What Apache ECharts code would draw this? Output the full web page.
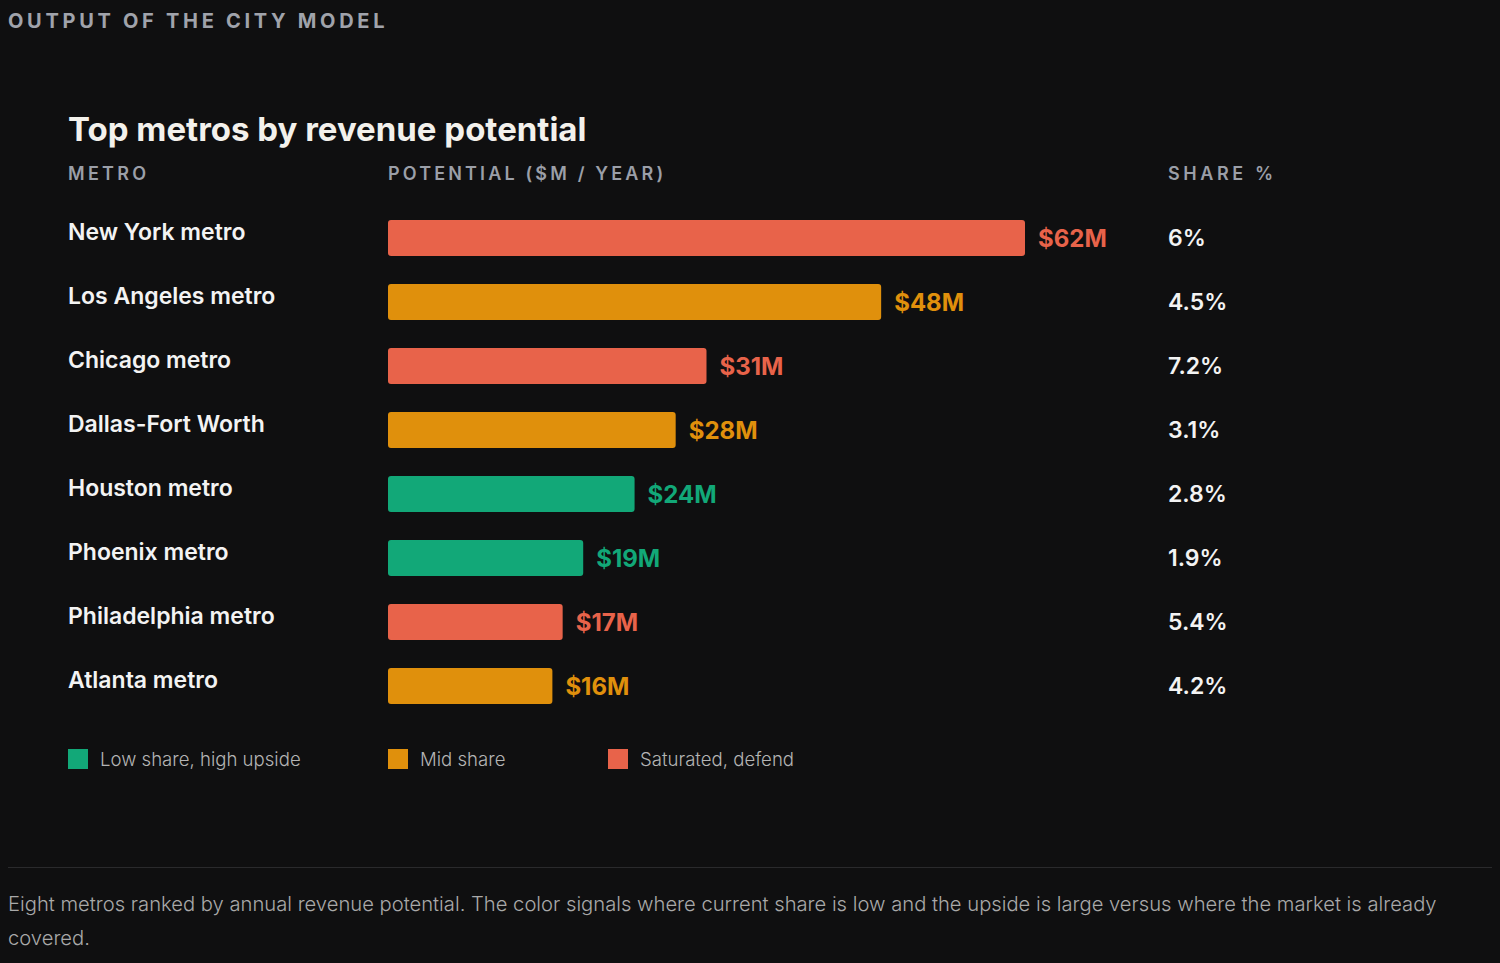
<!DOCTYPE html>
<html>
<head>
<meta charset="utf-8">
<script src="https://cdn.jsdelivr.net/npm/echarts@6/dist/echarts.min.js"></script>
<style>
  html, body { margin: 0; padding: 0; background: #0f0f10; }
  #chart { width: 1500px; height: 963px; }
</style>
</head>
<body>
<div id="chart"></div>
<script>
// data
const metros = ['New York metro', 'Los Angeles metro', 'Chicago metro', 'Dallas-Fort Worth',
  'Houston metro', 'Phoenix metro', 'Philadelphia metro', 'Atlanta metro'];
const potential = [62, 48, 31, 28, 24, 19, 17, 16];
const shares = ['6%', '4.5%', '7.2%', '3.1%', '2.8%', '1.9%', '5.4%', '4.2%'];
// 0 = low share, 1 = mid share, 2 = saturated
const segment = [2, 1, 2, 1, 0, 0, 2, 1];
const segmentNames = ['Low share, high upside', 'Mid share', 'Saturated, defend'];
const segmentColors = ['#12a878', '#e0900c', '#e8634a'];

const FONT = 'Inter, "Noto Sans", sans-serif';
// svg renderer so the small caps headers can get css letter-spacing
const chart = echarts.init(document.getElementById('chart'), null, { renderer: 'svg' });

const series = segmentNames.map((name, s) => ({
  name: name,
  type: 'bar',
  stack: 'all',
  barWidth: 36,
  data: potential.map((v, i) => (segment[i] === s ? v : '-')),
  itemStyle: { color: segmentColors[s], borderRadius: 3 },
  label: {
    show: true,
    position: 'right',
    distance: 13,
    formatter: '${c}M',
    color: segmentColors[s],
    fontFamily: FONT,
    fontSize: 24,
    fontWeight: 700,
    padding: [4, 0, 0, 0]
  }
}));

const legendLeft = [68, 388, 608];
const legends = segmentNames.map((name, s) => ({
  data: [name],
  left: legendLeft[s],
  top: 749,
  padding: 0,
  itemWidth: 20,
  itemHeight: 20,
  icon: 'rect',
  selectedMode: false,
  textStyle: { color: '#b4b4b4', fontFamily: FONT, fontSize: 18.6, fontWeight: 300, padding: [2, 0, 0, 7] }
}));

const headerStyle = { fill: '#9b9fa8', fontFamily: FONT, fontSize: 18, fontWeight: 600 };
const spaced = {
  'OUTPUT OF THE CITY MODEL': '3.7px',
  'METRO': '3.3px',
  'POTENTIAL ($M / YEAR)': '3.15px',
  'SHARE %': '3.6px'
};

const option = {
  backgroundColor: '#0f0f10',
  animation: false,
  grid: { left: 388, top: 206, width: 637, height: 512 },
  xAxis: { type: 'value', min: 0, max: 62, show: false },
  yAxis: [
    {
      type: 'category',
      data: metros,
      inverse: true,
      axisLine: { show: false },
      axisTick: { show: false },
      axisLabel: {
        align: 'left',
        verticalAlign: 'bottom',
        lineHeight: 12,
        margin: 320,
        color: '#f3f3f3',
        fontFamily: FONT,
        fontSize: 23,
        fontWeight: 600
      }
    },
    {
      type: 'category',
      data: metros,
      inverse: true,
      position: 'right',
      axisLine: { show: false },
      axisTick: { show: false },
      axisLabel: {
        align: 'left',
        margin: 143,
        color: '#f3f3f3',
        fontFamily: FONT,
        fontSize: 23,
        fontWeight: 600,
        padding: [2, 0, 0, 0],
        formatter: (v, i) => shares[i]
      }
    }
  ],
  legend: legends,
  series: series,
  graphic: [
    {
      type: 'text', left: 8, top: 11,
      style: { text: 'OUTPUT OF THE CITY MODEL', fill: '#a0a3ab', fontFamily: FONT, fontSize: 20, fontWeight: 700 }
    },
    {
      type: 'text', left: 68, top: 112,
      style: { text: 'Top metros by revenue potential', fill: '#f3f1ec', fontFamily: FONT, fontSize: 33, fontWeight: 700 }
    },
    { type: 'text', left: 68, top: 164, style: Object.assign({ text: 'METRO' }, headerStyle) },
    { type: 'text', left: 388, top: 164, style: Object.assign({ text: 'POTENTIAL ($M / YEAR)' }, headerStyle) },
    { type: 'text', left: 1168, top: 164, style: Object.assign({ text: 'SHARE %' }, headerStyle) },
    {
      type: 'line',
      shape: { x1: 8, y1: 867.5, x2: 1492, y2: 867.5 },
      style: { stroke: '#2a2a2c', lineWidth: 1 }
    },
    {
      type: 'text', left: 8, top: 886,
      style: {
        text: 'Eight metros ranked by annual revenue potential. The color signals where current share is low and the upside is large versus where the market is already covered.',
        width: 1484,
        overflow: 'break',
        lineHeight: 34,
        fill: '#a9a9a9',
        fontFamily: FONT,
        fontSize: 20.2,
        fontWeight: 300
      }
    }
  ]
};

function applySpacing() {
  document.querySelectorAll('#chart text').forEach((t) => {
    const ls = spaced[t.textContent];
    if (ls) t.style.letterSpacing = ls;
  });
}

chart.on('finished', applySpacing);
chart.setOption(option);
applySpacing();
window.addEventListener('resize', () => chart.resize());
</script>
</body>
</html>
